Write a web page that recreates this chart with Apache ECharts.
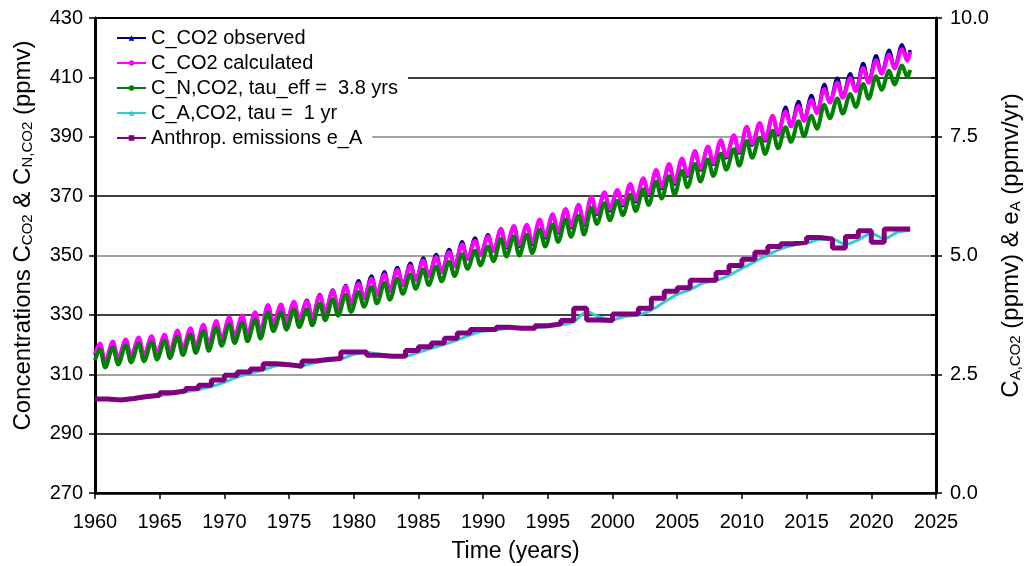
<!DOCTYPE html>
<html>
<head>
<meta charset="utf-8">
<title>CO2 concentrations and anthropogenic emissions</title>
<script src="https://cdn.jsdelivr.net/npm/echarts@6/dist/echarts.min.js"></script>
<style>
  html, body { margin: 0; padding: 0; background: #fff; }
  #chart { width: 1026px; height: 566px; }
</style>
</head>
<body>
<div id="chart"></div>
<script>
// Time layout of the monthly record: one seasonal maximum (May) and one
// minimum (late September / early October) per year, 1960 ... 2022.
const FIRST_YEAR = 1960;
const START_T = 1960.0;
const END_T = 2023.0;
const PEAK_T = 4.5 / 12;
const TROUGH_T = 9.5 / 12;

// Observed CO2 (ppmv): yearly seasonal maxima and minima
const obsStart = 316.4, obsEnd = 419.2;
const obsPeak = [
  320.0, 320.6, 321.3, 322.0, 322.4, 322.9, 324.3, 325.1, 326.3, 327.5,
  328.8, 329.4, 330.5, 332.9, 333.1, 334.0, 334.9, 336.9, 338.4, 339.9,
  341.5, 343.1, 344.5, 346.0, 347.4, 349.2, 350.3, 352.0, 354.6, 355.9,
  357.0, 358.7, 359.6, 360.1, 361.8, 363.6, 365.4, 366.8, 369.5, 371.0,
  371.8, 373.8, 375.7, 378.5, 380.5, 382.4, 384.9, 386.4, 388.5, 390.2,
  393.1, 394.3, 396.8, 399.9, 401.9, 403.9, 407.6, 409.7, 411.2, 414.7,
  417.3, 419.1, 421.0
];
const obsTrough = [
  313.8, 314.8, 315.5, 315.9, 316.5, 317.1, 318.1, 318.9, 319.6, 321.4,
  322.4, 323.1, 324.1, 326.6, 327.2, 328.1, 328.9, 330.7, 332.2, 333.6,
  335.7, 336.8, 338.0, 340.0, 341.7, 343.1, 344.4, 346.3, 348.8, 350.1,
  351.5, 352.6, 353.0, 353.8, 356.0, 357.6, 359.4, 360.3, 363.9, 365.1,
  366.8, 368.2, 370.3, 372.6, 374.1, 376.7, 378.8, 380.7, 382.9, 384.5,
  387.2, 388.6, 390.7, 393.5, 395.4, 398.0, 401.5, 403.4, 405.6, 408.5,
  411.5, 413.3, 415.9
];

// Calculated CO2 (ppmv)
const calcStart = 316.8, calcEnd = 418.5;
const calcPeak = [
  320.4, 321.0, 321.7, 322.4, 322.8, 323.3, 324.7, 325.5, 326.7, 327.9,
  329.2, 329.8, 330.9, 333.3, 333.5, 334.4, 334.6, 336.6, 338.1, 339.6,
  340.6, 342.2, 343.6, 345.1, 346.5, 348.3, 349.4, 351.1, 353.7, 355.0,
  356.4, 359.0, 359.9, 360.4, 362.1, 363.9, 365.7, 367.1, 369.8, 371.3,
  372.1, 374.1, 376.0, 378.8, 380.8, 382.7, 385.2, 386.7, 388.8, 390.5,
  393.4, 394.6, 397.1, 398.4, 400.4, 402.4, 406.1, 408.2, 409.7, 413.2,
  415.8, 417.6, 419.5
];
const calcTrough = [
  314.3, 315.3, 316.0, 316.4, 317.0, 317.6, 318.6, 319.4, 320.1, 321.9,
  322.9, 323.6, 324.6, 327.1, 327.7, 328.6, 329.2, 331.0, 332.5, 333.9,
  335.7, 336.8, 338.0, 340.0, 341.7, 343.1, 344.4, 346.3, 348.8, 350.1,
  351.5, 353.1, 353.5, 354.3, 356.5, 358.1, 359.9, 360.8, 364.4, 365.6,
  367.3, 368.7, 370.8, 373.1, 374.6, 377.2, 379.3, 381.2, 383.4, 385.0,
  387.7, 389.1, 391.2, 393.5, 395.4, 398.0, 401.5, 403.1, 405.3, 408.2,
  411.2, 413.0, 415.6
];

// Natural part C_N,CO2 (ppmv)
const natStart = 314.8, natEnd = 412.5;
const natPeak = [
  318.4, 319.0, 319.7, 320.4, 320.8, 321.2, 322.6, 323.3, 324.5, 325.6,
  326.8, 327.3, 328.3, 330.7, 330.8, 331.7, 331.9, 333.8, 335.3, 336.7,
  337.7, 339.3, 340.7, 342.2, 343.6, 345.3, 346.3, 347.9, 350.4, 351.6,
  353.0, 355.6, 356.4, 356.9, 358.6, 360.4, 362.1, 363.4, 366.0, 367.6,
  368.4, 370.4, 372.2, 374.9, 376.7, 378.5, 380.8, 382.3, 384.3, 385.8,
  388.6, 389.7, 392.0, 393.2, 395.2, 397.1, 400.8, 402.9, 404.4, 407.8,
  410.4, 412.2, 414.0
];
const natTrough = [
  312.3, 313.3, 314.0, 314.4, 315.0, 315.5, 316.5, 317.2, 317.9, 319.6,
  320.5, 321.1, 322.0, 324.5, 325.0, 325.9, 326.5, 328.2, 329.7, 331.0,
  332.8, 333.9, 335.1, 337.1, 338.8, 340.1, 341.3, 343.1, 345.5, 346.7,
  348.1, 349.7, 350.0, 350.8, 353.0, 354.6, 356.3, 357.1, 360.6, 361.9,
  363.6, 365.0, 367.0, 369.2, 370.5, 373.0, 374.9, 376.8, 378.9, 380.3,
  382.9, 384.2, 386.1, 388.3, 390.2, 392.7, 396.2, 397.8, 400.0, 402.8,
  405.8, 407.6, 410.1
];

// Anthropogenic part C_A,CO2 (ppmv), value at the end of each year
const anthStart = 1.98;
const anthEndOfYear = [
  1.97, 1.96, 1.98, 2.01, 2.05, 2.09, 2.13, 2.18, 2.24, 2.33,
  2.44, 2.52, 2.59, 2.68, 2.70, 2.68, 2.74, 2.79, 2.82, 2.92,
  2.96, 2.92, 2.89, 2.88, 2.96, 3.05, 3.13, 3.22, 3.33, 3.41,
  3.43, 3.47, 3.47, 3.47, 3.50, 3.54, 3.60, 3.82, 3.70, 3.65,
  3.72, 3.75, 3.85, 4.02, 4.18, 4.28, 4.42, 4.47, 4.58, 4.73,
  4.87, 5.01, 5.14, 5.22, 5.26, 5.34, 5.35, 5.23, 5.33, 5.47,
  5.35, 5.49, 5.53
];

// Anthropogenic emissions e_A (ppmv/yr), constant over each calendar year
const emissions = [
  1.98, 1.96, 1.99, 2.03, 2.06, 2.11, 2.15, 2.20, 2.27, 2.38,
  2.48, 2.55, 2.61, 2.72, 2.70, 2.67, 2.78, 2.81, 2.83, 2.97,
  2.97, 2.90, 2.88, 2.88, 3.00, 3.08, 3.16, 3.26, 3.37, 3.44,
  3.44, 3.49, 3.47, 3.47, 3.52, 3.56, 3.63, 3.89, 3.64, 3.63,
  3.77, 3.77, 3.89, 4.10, 4.25, 4.32, 4.48, 4.48, 4.64, 4.79,
  4.92, 5.07, 5.19, 5.25, 5.28, 5.38, 5.35, 5.16, 5.40, 5.52,
  5.28, 5.56, 5.56
];

const seriesNames = [
  'C_CO2 observed',
  'C_CO2 calculated',
  'C_N,CO2, tau_eff =  3.8 yrs',
  'C_A,CO2, tau =  1 yr',
  'Anthrop. emissions e_A'
];

// Axis ranges and ticks
const leftAxis = { min: 270, max: 430, step: 20 };
const rightAxis = { min: 0, max: 10, step: 2.5, minorStep: 1.25 };
const timeAxis = { min: 1960, max: 2025, step: 5 };

// ---- build point lists ----
function seasonalCurve(start, peaks, troughs, end) {
  const pts = [[START_T, start]];
  peaks.forEach((p, i) => {
    const y = FIRST_YEAR + i;
    pts.push([y + PEAK_T, p]);
    pts.push([y + TROUGH_T, troughs[i]]);
  });
  pts.push([END_T, end]);
  return pts;
}
const anthPts = [[START_T, anthStart]].concat(
  anthEndOfYear.map((v, i) => [FIRST_YEAR + i + 1, v]));
const emisPts = emissions.map((v, i) => [FIRST_YEAR + i, v]);
emisPts.push([END_T, emissions[emissions.length - 1]]);

const FONT = '"Liberation Sans", Arial, sans-serif';
const GRID_GRAY = '#808080';

// Split lines: grey where the right-axis gridline falls, black otherwise
const splitColors = [];
for (let v = leftAxis.min; v <= leftAxis.max; v += leftAxis.step) {
  const r = (v - leftAxis.min) / 16;
  const onRightTick = v !== leftAxis.min && v !== leftAxis.max && r % rightAxis.step === 0;
  splitColors.push(onRightTick ? GRID_GRAY : '#000');
}

const chart = echarts.init(document.getElementById('chart'));

const subStyle = { fontSize: 15, fontFamily: FONT, color: '#000', verticalAlign: 'bottom', lineHeight: 15 };

chart.setOption({
  animation: false,
  backgroundColor: '#fff',
  grid: {
    left: 95, right: 90, top: 18, bottom: 73,
    outerBoundsMode: 'none',
    show: true, borderColor: '#000', borderWidth: 2, backgroundColor: 'transparent'
  },
  legend: seriesNames.map((n, i) => ({
    data: [n],
    left: 97,
    top: 27 + i * 25,
    backgroundColor: '#fff',
    padding: [1, 10, 1, 19],
    itemWidth: 29,
    itemHeight: 7,
    selectedMode: false,
    textStyle: { fontSize: 20, fontFamily: FONT, color: '#000' }
  })),
  xAxis: {
    type: 'value',
    min: timeAxis.min, max: timeAxis.max, interval: timeAxis.step,
    name: 'Time (years)',
    nameLocation: 'middle',
    nameGap: 47,
    nameTextStyle: { fontSize: 23, fontFamily: FONT, color: '#000' },
    axisLine: { lineStyle: { color: '#000', width: 2.5 } },
    axisTick: { length: 6, lineStyle: { color: '#000', width: 1.5 } },
    axisLabel: { fontSize: 20, fontFamily: FONT, color: '#000', margin: 19, formatter: v => String(v) },
    splitLine: { show: false }
  },
  yAxis: [
    {
      type: 'value', position: 'left',
      min: leftAxis.min, max: leftAxis.max, interval: leftAxis.step,
      name: 'Concentrations C{s|CO2} & C{s|N,CO2} (ppmv)',
      nameLocation: 'middle', nameRotate: 90, nameGap: 60,
      nameTextStyle: {
        fontSize: 24, fontFamily: FONT, color: '#000',
        padding: [0, 0, 0, 40], rich: { s: subStyle }
      },
      axisLine: { show: true, lineStyle: { color: '#000', width: 3 } },
      axisTick: { show: true, length: 6, lineStyle: { color: '#000', width: 1.5 } },
      axisLabel: { fontSize: 20, fontFamily: FONT, color: '#000', margin: 12, formatter: v => String(v) },
      splitLine: { show: true, lineStyle: { color: splitColors, width: 1.5 } }
    },
    {
      type: 'value', position: 'right',
      min: rightAxis.min, max: rightAxis.max, interval: rightAxis.step,
      name: 'C{s|A,CO2} (ppmv) & e{s|A} (ppmv/yr)',
      nameLocation: 'middle', nameRotate: 90, nameGap: 50,
      nameTextStyle: {
        fontSize: 24, fontFamily: FONT, color: '#000',
        padding: [0, 0, 0, 20], rich: { s: subStyle }
      },
      axisLine: { show: true, lineStyle: { color: '#000', width: 3 } },
      axisTick: { show: true, length: 6, lineStyle: { color: '#000', width: 1.5 } },
      axisLabel: { fontSize: 20, fontFamily: FONT, color: '#000', margin: 14, formatter: v => v.toFixed(1) },
      splitLine: { show: false }
    },
    {
      // inner minor ticks on the right-hand axis
      type: 'value', position: 'right',
      min: rightAxis.min, max: rightAxis.max, interval: rightAxis.minorStep,
      axisLine: { show: false },
      axisTick: { show: true, inside: true, length: 5, lineStyle: { color: '#000', width: 1.5 } },
      axisLabel: { show: false },
      splitLine: { show: false }
    }
  ],
  series: [
    {
      name: seriesNames[0], type: 'line', yAxisIndex: 0,
      data: seasonalCurve(obsStart, obsPeak, obsTrough, obsEnd),
      smooth: 0.35, symbol: 'triangle', symbolSize: 6, showSymbol: false,
      lineStyle: { color: '#000080', width: 3.5 }, itemStyle: { color: '#000080' }
    },
    {
      name: seriesNames[1], type: 'line', yAxisIndex: 0,
      data: seasonalCurve(calcStart, calcPeak, calcTrough, calcEnd),
      smooth: 0.35, symbol: 'circle', symbolSize: 5, showSymbol: false,
      lineStyle: { color: '#FF00FF', width: 4 }, itemStyle: { color: '#FF00FF' }
    },
    {
      name: seriesNames[2], type: 'line', yAxisIndex: 0,
      data: seasonalCurve(natStart, natPeak, natTrough, natEnd),
      smooth: 0.35, symbol: 'circle', symbolSize: 5, showSymbol: false,
      lineStyle: { color: '#008000', width: 4 }, itemStyle: { color: '#008000' }
    },
    {
      name: seriesNames[3], type: 'line', yAxisIndex: 1,
      data: anthPts,
      smooth: 0.25, symbol: 'triangle', symbolSize: 5, showSymbol: false,
      lineStyle: { color: '#33CCCC', width: 3 }, itemStyle: { color: '#33CCCC' }
    },
    {
      name: seriesNames[4], type: 'line', yAxisIndex: 1,
      data: emisPts, step: 'end',
      symbol: 'rect', symbolSize: 5, showSymbol: false,
      lineStyle: { color: '#800080', width: 5 }, itemStyle: { color: '#800080' }
    }
  ]
});
</script>
</body>
</html>
